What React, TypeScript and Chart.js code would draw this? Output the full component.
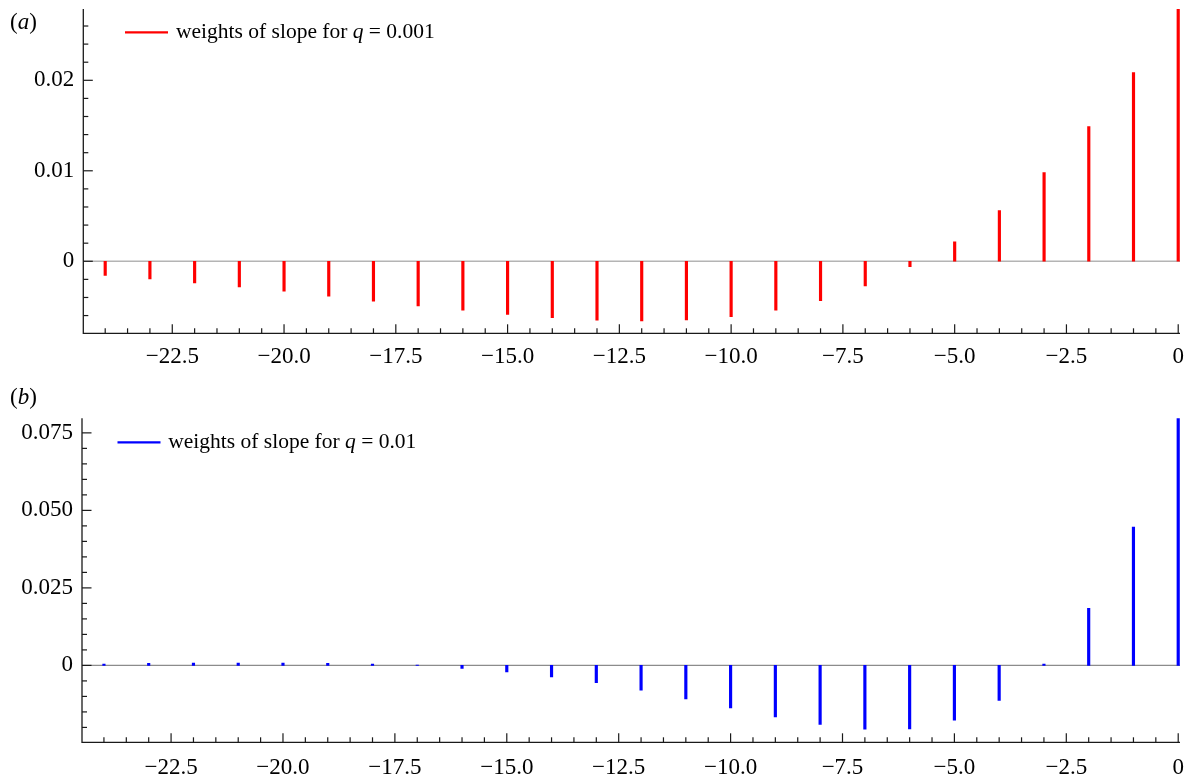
import React, { useEffect, useRef } from "react";
import { Chart, registerables } from "chart.js";

Chart.register(...registerables);

// ---- data ----
const lags = [-24, -23, -22, -21, -20, -19, -18, -17, -16, -15, -14, -13, -12, -11, -10, -9, -8, -7, -6, -5, -4, -3, -2, -1, 0];

const weightsQ001 = [
  -0.00155, -0.00195, -0.0024, -0.00284, -0.00331, -0.00387, -0.00442, -0.00494, -0.00541,
  -0.00586, -0.00622, -0.00652, -0.0066, -0.00648, -0.00611, -0.00541, -0.00435, -0.00273,
  -0.00059, 0.00214, 0.0056, 0.0098, 0.01488, 0.02085, 0.02789,
];

const weightsQ01 = [
  0.0004, 0.00065, 0.00075, 0.00075, 0.00075, 0.00065, 0.0004, 0.0001, -0.001, -0.0021,
  -0.0037, -0.0056, -0.008, -0.0108, -0.0137, -0.0166, -0.019, -0.0206, -0.0205, -0.0177,
  -0.0113, 0.0004, 0.0184, 0.0446, 0.0797,
];

const xMajorTicks = [-22.5, -20, -17.5, -15, -12.5, -10, -7.5, -5, -2.5, 0];
const xTickLabels = ["\u221222.5", "\u221220.0", "\u221217.5", "\u221215.0", "\u221212.5", "\u221210.0", "\u22127.5", "\u22125.0", "\u22122.5", "0"];

const yMajorA = [0, 0.01, 0.02];
const yLabelsA = ["0", "0.01", "0.02"];
const yMajorB = [0, 0.025, 0.05, 0.075];
const yLabelsB = ["0", "0.025", "0.050", "0.075"];

const legendTextA = ["weights of slope for ", "q", " = 0.001"];
const legendTextB = ["weights of slope for ", "q", " = 0.01"];

const SERIF = '"Liberation Serif", "Times New Roman", serif';

type PanelCfg = {
  top: number;
  height: number;
  padTop: number;
  xAxisH: number;
  yAxisW: number;
  xLabelPad: number;
  yMin: number;
  yMax: number;
  yMajor: number[];
  yLabels: string[];
  yMinorStep: number;
  weights: number[];
  color: string;
  zeroColor: string;
  zeroWidth: number;
  legend: string[];
  legendY: number;
  legendX1: number;
  legendX2: number;
  legendTextX: number;
  tag: string;
  tagY: number;
};

const panels: PanelCfg[] = [
  {
    top: 0,
    height: 380,
    padTop: 9,
    xAxisH: 46.7,
    yAxisW: 83.3,
    xLabelPad: 10,
    yMin: -0.00796,
    yMax: 0.02788,
    yMajor: yMajorA,
    yLabels: yLabelsA,
    yMinorStep: 0.002,
    weights: weightsQ001,
    color: "#ff0000",
    zeroColor: "#b4b4b4",
    zeroWidth: 1.5,
    legend: legendTextA,
    legendY: 32.3,
    legendX1: 125,
    legendX2: 168,
    legendTextX: 176,
    tag: "a",
    tagY: 23,
  },
  {
    top: 380,
    height: 400,
    padTop: 38.3,
    xAxisH: 37.7,
    yAxisW: 82,
    xLabelPad: 12,
    yMin: -0.0248,
    yMax: 0.0797,
    yMajor: yMajorB,
    yLabels: yLabelsB,
    yMinorStep: 0.005,
    weights: weightsQ01,
    color: "#0000ff",
    zeroColor: "#8c8c8c",
    zeroWidth: 1.2,
    legend: legendTextB,
    legendY: 62.3,
    legendX1: 117.5,
    legendX2: 160.5,
    legendTextX: 168.3,
    tag: "b",
    tagY: 18,
  },
];

const X_MIN = -24.49;
const X_MAX = 0.04;

function drawRich(ctx: CanvasRenderingContext2D, parts: [string, boolean][], x: number, y: number, size: number) {
  let cx = x;
  for (const [t, it] of parts) {
    ctx.font = `${it ? "italic " : ""}${size}px ${SERIF}`;
    ctx.fillText(t, cx, y);
    cx += ctx.measureText(t).width;
  }
}

function Panel({ cfg }: { cfg: PanelCfg }) {
  const ref = useRef<HTMLCanvasElement | null>(null);

  useEffect(() => {
    const canvas = ref.current;
    if (!canvas) return;

    const framePlugin = {
      id: "frame",
      beforeDatasetsDraw(chart: any) {
        const { ctx, chartArea, scales } = chart;
        const y0 = scales.y.getPixelForValue(0);
        ctx.save();
        ctx.strokeStyle = cfg.zeroColor;
        ctx.lineWidth = cfg.zeroWidth;
        ctx.beginPath();
        ctx.moveTo(chartArea.left, y0);
        ctx.lineTo(chartArea.right, y0);
        ctx.stroke();
        ctx.restore();
      },
      afterDraw(chart: any) {
        const { ctx, chartArea, scales } = chart;
        const { left, right, top, bottom } = chartArea;
        ctx.save();
        ctx.strokeStyle = "#1a1a1a";
        ctx.lineWidth = 1.3;
        ctx.beginPath();
        ctx.moveTo(left, top);
        ctx.lineTo(left, bottom);
        ctx.lineTo(right, bottom);
        ctx.stroke();

        ctx.lineWidth = 1.2;
        // x ticks (inward)
        for (let k = -48; k <= 0; k++) {
          const v = k * 0.5;
          if (v < X_MIN) continue;
          const px = scales.x.getPixelForValue(v);
          const major = Math.abs(v / 2.5 - Math.round(v / 2.5)) < 1e-9;
          const len = major ? 9 : 5;
          ctx.beginPath();
          ctx.moveTo(px, bottom);
          ctx.lineTo(px, bottom - len);
          ctx.stroke();
        }
        // y ticks (inward)
        const kMin = Math.ceil(cfg.yMin / cfg.yMinorStep - 1e-9);
        const kMax = Math.floor(cfg.yMax / cfg.yMinorStep + 1e-9);
        for (let k = kMin; k <= kMax; k++) {
          const v = k * cfg.yMinorStep;
          const py = scales.y.getPixelForValue(v);
          const major = cfg.yMajor.some((m) => Math.abs(m - v) < 1e-9);
          const len = major ? 9.5 : 5;
          ctx.beginPath();
          ctx.moveTo(left, py);
          ctx.lineTo(left + len, py);
          ctx.stroke();
        }

        // legend
        ctx.strokeStyle = cfg.color;
        ctx.lineWidth = 2.2;
        ctx.beginPath();
        ctx.moveTo(cfg.legendX1, cfg.legendY);
        ctx.lineTo(cfg.legendX2, cfg.legendY);
        ctx.stroke();
        ctx.fillStyle = "#000";
        ctx.textBaseline = "middle";
        ctx.textAlign = "left";
        drawRich(
          ctx,
          [
            [cfg.legend[0], false],
            [cfg.legend[1], true],
            [cfg.legend[2], false],
          ],
          cfg.legendTextX,
          cfg.legendY,
          21.5
        );

        // panel tag
        drawRich(
          ctx,
          [
            ["(", false],
            [cfg.tag, true],
            [")", false],
          ],
          10,
          cfg.tagY,
          23
        );
        ctx.restore();
      },
    };

    const chart = new Chart(canvas, {
      type: "bar",
      data: {
        datasets: [
          {
            data: lags.map((x, i) => ({ x, y: cfg.weights[i] })),
            backgroundColor: cfg.color,
            borderWidth: 0,
            barThickness: 2.5,
            grouped: false,
          } as any,
        ],
      },
      options: {
        responsive: false,
        animation: false,
        layout: { padding: { left: 0, right: 9, top: cfg.padTop, bottom: 0 } },
        plugins: { legend: { display: false }, tooltip: { enabled: false } },
        scales: {
          x: {
            type: "linear",
            offset: false,
            min: X_MIN,
            max: X_MAX,
            grid: { display: false, drawTicks: false },
            border: { display: false },
            afterBuildTicks: (s: any) => {
              s.ticks = xMajorTicks.map((v) => ({ value: v }));
            },
            afterFit: (s: any) => {
              s.height = cfg.xAxisH;
              s.paddingLeft = 0;
              s.paddingRight = 0;
            },
            ticks: {
              autoSkip: false,
              maxRotation: 0,
              padding: cfg.xLabelPad,
              color: "#000",
              font: { family: SERIF, size: 23 },
              callback: (_v: any, i: number) => xTickLabels[i],
            },
          },
          y: {
            type: "linear",
            min: cfg.yMin,
            max: cfg.yMax,
            grid: { display: false, drawTicks: false },
            border: { display: false },
            afterBuildTicks: (s: any) => {
              s.ticks = cfg.yMajor.map((v) => ({ value: v }));
            },
            afterFit: (s: any) => {
              s.width = cfg.yAxisW;
              s.paddingTop = 0;
              s.paddingBottom = 0;
            },
            ticks: {
              autoSkip: false,
              padding: 9,
              color: "#000",
              font: { family: SERIF, size: 23 },
              callback: (_v: any, i: number) => cfg.yLabels[i],
            },
          },
        },
      } as any,
      plugins: [framePlugin],
    });

    return () => chart.destroy();
  }, [cfg]);

  return (
    <canvas
      ref={ref}
      width={1189}
      height={cfg.height}
      style={{ position: "absolute", left: 0, top: cfg.top, width: 1189, height: cfg.height, display: "block" }}
    />
  );
}

export default function App() {
  return (
    <div style={{ position: "absolute", left: 0, top: 0, width: 1189, height: 780, background: "#fff" }}>
      {panels.map((p) => (
        <Panel key={p.tag} cfg={p} />
      ))}
    </div>
  );
}
